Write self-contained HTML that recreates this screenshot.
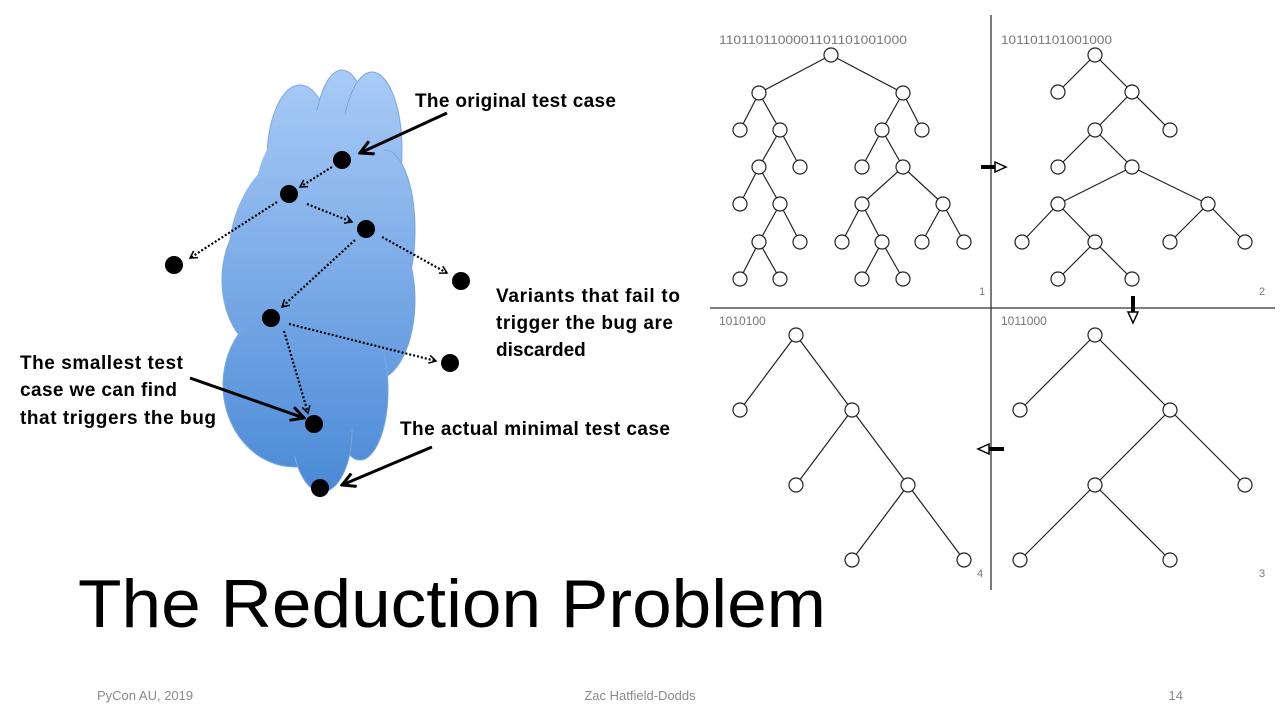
<!DOCTYPE html>
<html><head><meta charset="utf-8"><style>
html,body{margin:0;padding:0;background:#fff;width:1280px;height:720px;overflow:hidden}
svg{display:block}
</style></head><body>
<svg width="1280" height="720" viewBox="0 0 1280 720" xmlns="http://www.w3.org/2000/svg" font-family="Liberation Sans, sans-serif">
<defs>
<linearGradient id="g" gradientUnits="userSpaceOnUse" x1="0" y1="70" x2="0" y2="495">
<stop offset="0" stop-color="#a9cbf7"/><stop offset="1" stop-color="#4a89d6"/></linearGradient>
<marker id="ah" markerWidth="10" markerHeight="10" refX="8" refY="5" orient="auto" markerUnits="userSpaceOnUse"><path d="M1,1 L8,5 L1,9" fill="none" stroke="#000" stroke-width="1.5"/></marker>
<marker id="ahs" markerWidth="16" markerHeight="16" refX="14" refY="8" orient="auto" markerUnits="userSpaceOnUse"><path d="M1,1 L14,8 L1,15" fill="none" stroke="#000" stroke-width="3"/></marker>
</defs>
<!-- cloud -->
<g fill="url(#g)" stroke="#7aa6de" stroke-width="1">
<ellipse cx="300" cy="160" rx="33" ry="75"/>
<ellipse cx="342" cy="145" rx="28" ry="75"/>
<ellipse cx="372" cy="150" rx="30" ry="78"/>
<ellipse cx="385" cy="230" rx="30" ry="80"/>
<ellipse cx="270" cy="280" rx="48" ry="72"/>
<ellipse cx="375" cy="300" rx="40" ry="80"/>
<ellipse cx="295" cy="385" rx="72" ry="82"/>
<ellipse cx="360" cy="390" rx="28" ry="70"/>
<ellipse cx="322" cy="430" rx="30" ry="62"/>
</g>
<g fill="url(#g)">
<ellipse cx="318" cy="260" rx="90" ry="115"/>
<ellipse cx="325" cy="200" rx="70" ry="90"/>
<ellipse cx="305" cy="385" rx="60" ry="72"/>
<ellipse cx="322" cy="440" rx="24" ry="48"/>
</g>
<!-- dotted arrows -->
<g stroke="#000" stroke-width="2.2" stroke-dasharray="2,2" fill="none" marker-end="url(#ah)">
<line x1="332" y1="167" x2="300" y2="187"/>
<line x1="307" y1="204" x2="352" y2="222"/>
<line x1="277" y1="202" x2="190" y2="258"/>
<line x1="382" y1="237" x2="447" y2="273"/>
<line x1="355" y1="240" x2="282" y2="307"/>
<line x1="289" y1="324" x2="436" y2="361"/>
<line x1="284" y1="331" x2="308" y2="413"/>
</g>
<!-- solid arrows -->
<g stroke="#000" stroke-width="3" fill="none" marker-end="url(#ahs)">
<line x1="447" y1="113" x2="360" y2="153"/>
<line x1="190" y1="378" x2="304" y2="418"/>
<line x1="432" y1="447" x2="342" y2="485"/>
</g>
<g fill="#000">
<circle cx="342" cy="160" r="9"/><circle cx="289" cy="194" r="9"/><circle cx="366" cy="229" r="9"/>
<circle cx="174" cy="265" r="9"/><circle cx="461" cy="281" r="9"/><circle cx="271" cy="318" r="9"/>
<circle cx="450" cy="363" r="9"/><circle cx="314" cy="424" r="9"/><circle cx="320" cy="488" r="9"/>
</g>
<g font-weight="bold" font-size="19" fill="#000">
<text x="415" y="107" textLength="201">The original test case</text>
<text x="496" y="302" textLength="184">Variants that fail to</text>
<text x="496" y="329" textLength="177">trigger the bug are</text>
<text x="496" y="356">discarded</text>
<text x="20" y="369" textLength="163">The smallest test</text>
<text x="20" y="396" textLength="157">case we can find</text>
<text x="20" y="424" textLength="196">that triggers the bug</text>
<text x="400" y="435" textLength="270">The actual minimal test case</text>
</g>
<!-- quadrant lines -->
<g stroke="#333" stroke-width="1.3">
<line x1="991" y1="15" x2="991" y2="590"/>
<line x1="710" y1="308" x2="1275" y2="308"/>
</g>
<g stroke="#222" stroke-width="1.2">
<line x1="831" y1="55" x2="759" y2="93"/><line x1="831" y1="55" x2="903" y2="93"/>
<line x1="759" y1="93" x2="740" y2="130"/><line x1="759" y1="93" x2="780" y2="130"/>
<line x1="780" y1="130" x2="759" y2="167"/><line x1="780" y1="130" x2="800" y2="167"/>
<line x1="759" y1="167" x2="740" y2="204"/><line x1="759" y1="167" x2="780" y2="204"/>
<line x1="780" y1="204" x2="759" y2="242"/><line x1="780" y1="204" x2="800" y2="242"/>
<line x1="759" y1="242" x2="740" y2="279"/><line x1="759" y1="242" x2="780" y2="279"/>
<line x1="903" y1="93" x2="882" y2="130"/><line x1="903" y1="93" x2="922" y2="130"/>
<line x1="882" y1="130" x2="862" y2="167"/><line x1="882" y1="130" x2="903" y2="167"/>
<line x1="903" y1="167" x2="862" y2="204"/><line x1="903" y1="167" x2="943" y2="204"/>
<line x1="862" y1="204" x2="842" y2="242"/><line x1="862" y1="204" x2="882" y2="242"/>
<line x1="882" y1="242" x2="862" y2="279"/><line x1="882" y1="242" x2="903" y2="279"/>
<line x1="943" y1="204" x2="922" y2="242"/><line x1="943" y1="204" x2="964" y2="242"/>
<line x1="1095" y1="55" x2="1058" y2="92"/><line x1="1095" y1="55" x2="1132" y2="92"/>
<line x1="1132" y1="92" x2="1095" y2="130"/><line x1="1132" y1="92" x2="1170" y2="130"/>
<line x1="1095" y1="130" x2="1058" y2="167"/><line x1="1095" y1="130" x2="1132" y2="167"/>
<line x1="1132" y1="167" x2="1058" y2="204"/><line x1="1132" y1="167" x2="1208" y2="204"/>
<line x1="1058" y1="204" x2="1022" y2="242"/><line x1="1058" y1="204" x2="1095" y2="242"/>
<line x1="1208" y1="204" x2="1170" y2="242"/><line x1="1208" y1="204" x2="1245" y2="242"/>
<line x1="1095" y1="242" x2="1058" y2="279"/><line x1="1095" y1="242" x2="1132" y2="279"/>
<line x1="1095" y1="335" x2="1020" y2="410"/><line x1="1095" y1="335" x2="1170" y2="410"/>
<line x1="1170" y1="410" x2="1095" y2="485"/><line x1="1170" y1="410" x2="1245" y2="485"/>
<line x1="1095" y1="485" x2="1020" y2="560"/><line x1="1095" y1="485" x2="1170" y2="560"/>
<line x1="796" y1="335" x2="740" y2="410"/><line x1="796" y1="335" x2="852" y2="410"/>
<line x1="852" y1="410" x2="796" y2="485"/><line x1="852" y1="410" x2="908" y2="485"/>
<line x1="908" y1="485" x2="852" y2="560"/><line x1="908" y1="485" x2="964" y2="560"/>
</g>
<g fill="#fff" stroke="#222" stroke-width="1.2">
<circle cx="831" cy="55" r="7"/><circle cx="759" cy="93" r="7"/><circle cx="903" cy="93" r="7"/>
<circle cx="740" cy="130" r="7"/><circle cx="780" cy="130" r="7"/><circle cx="882" cy="130" r="7"/><circle cx="922" cy="130" r="7"/>
<circle cx="759" cy="167" r="7"/><circle cx="800" cy="167" r="7"/><circle cx="862" cy="167" r="7"/><circle cx="903" cy="167" r="7"/>
<circle cx="740" cy="204" r="7"/><circle cx="780" cy="204" r="7"/><circle cx="862" cy="204" r="7"/><circle cx="943" cy="204" r="7"/>
<circle cx="759" cy="242" r="7"/><circle cx="800" cy="242" r="7"/><circle cx="842" cy="242" r="7"/><circle cx="882" cy="242" r="7"/><circle cx="922" cy="242" r="7"/><circle cx="964" cy="242" r="7"/>
<circle cx="740" cy="279" r="7"/><circle cx="780" cy="279" r="7"/><circle cx="862" cy="279" r="7"/><circle cx="903" cy="279" r="7"/>
<circle cx="1095" cy="55" r="7"/><circle cx="1058" cy="92" r="7"/><circle cx="1132" cy="92" r="7"/>
<circle cx="1095" cy="130" r="7"/><circle cx="1170" cy="130" r="7"/><circle cx="1058" cy="167" r="7"/><circle cx="1132" cy="167" r="7"/>
<circle cx="1058" cy="204" r="7"/><circle cx="1208" cy="204" r="7"/>
<circle cx="1022" cy="242" r="7"/><circle cx="1095" cy="242" r="7"/><circle cx="1170" cy="242" r="7"/><circle cx="1245" cy="242" r="7"/>
<circle cx="1058" cy="279" r="7"/><circle cx="1132" cy="279" r="7"/>
<circle cx="1095" cy="335" r="7"/><circle cx="1020" cy="410" r="7"/><circle cx="1170" cy="410" r="7"/>
<circle cx="1095" cy="485" r="7"/><circle cx="1245" cy="485" r="7"/><circle cx="1020" cy="560" r="7"/><circle cx="1170" cy="560" r="7"/>
<circle cx="796" cy="335" r="7"/><circle cx="740" cy="410" r="7"/><circle cx="852" cy="410" r="7"/>
<circle cx="796" cy="485" r="7"/><circle cx="908" cy="485" r="7"/><circle cx="852" cy="560" r="7"/><circle cx="964" cy="560" r="7"/>
</g>
<g stroke="#000" stroke-width="1.5" fill="#fff">
<rect x="981" y="165" width="14" height="4" fill="#000" stroke="none"/>
<path d="M995,162 L1006,167 L995,172 Z"/>
<rect x="1131" y="296" width="4" height="16" fill="#000" stroke="none"/>
<path d="M1128,312 L1133,323 L1138,312 Z"/>
<rect x="989" y="447" width="15" height="4" fill="#000" stroke="none"/>
<path d="M989,444 L978,449 L989,454 Z"/>
</g>
<g fill="#777" font-size="12">
<text x="719" y="44" textLength="188" lengthAdjust="spacingAndGlyphs">1101101100001101101001000</text>
<text x="1001" y="44" textLength="111" lengthAdjust="spacingAndGlyphs">101101101001000</text>
<text x="719" y="325">1010100</text>
<text x="1001" y="325">1011000</text>
<text x="979" y="295" font-size="11">1</text>
<text x="1259" y="295" font-size="11">2</text>
<text x="977" y="577" font-size="11">4</text>
<text x="1259" y="577" font-size="11">3</text>
</g>
<text x="78" y="627" font-size="68" fill="#000" textLength="748" lengthAdjust="spacingAndGlyphs">The Reduction Problem</text>
<g fill="#8a8a8a" font-size="13">
<text x="97" y="700">PyCon AU, 2019</text>
<text x="640" y="700" text-anchor="middle">Zac Hatfield-Dodds</text>
<text x="1183" y="700" text-anchor="end">14</text>
</g>
</svg>
</body></html>
